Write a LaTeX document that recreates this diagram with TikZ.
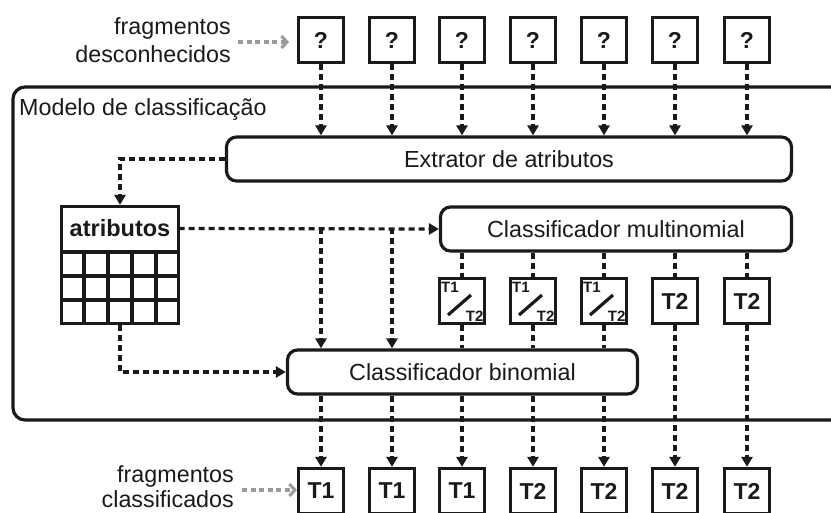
\documentclass[tikz,border=0pt]{standalone}
\usepackage{fontspec}
\setmainfont{Liberation Sans}
\usetikzlibrary{arrows.meta,positioning}

\definecolor{ink}{HTML}{1A1A1A}
\definecolor{hint}{HTML}{9A9A9A}

\tikzset{
  x=1pt, y=-1pt,
  every node/.style={text=ink},
  frag/.style={draw=ink, line width=3.2pt, minimum width=45pt, minimum height=45pt,
    inner sep=0pt, font=\fontsize{23}{26}\selectfont\bfseries},
  proc/.style={draw=ink, line width=3.2pt, rounded corners=10pt, inner sep=0pt,
    minimum height=44pt, font=\fontsize{23.3}{27}\selectfont},
  flow/.style={draw=ink, line width=3.2pt, dash pattern=on 6pt off 4pt},
  flowto/.style={flow, -{Triangle[length=10pt,width=11pt]}},
  hintarrow/.style={draw=hint, line width=3.2pt, dash pattern=on 5pt off 3.5pt,
    -{Straight Barb[length=5.5pt,width=12pt,line width=3pt]}},
  caption/.style={align=right, anchor=east, inner sep=0pt},
  tiny/.style={inner sep=0pt, font=\fontsize{15}{15}\selectfont\bfseries},
}

\begin{document}
\begin{tikzpicture}
\useasboundingbox (0,0) rectangle (831,513);
\clip (0,0) rectangle (831,513);
\fill[white] (0,0) rectangle (831,513);

% classification model frame
\draw[ink, line width=3.2pt, rounded corners=12pt] (13,87) rectangle (870,420);
\node[anchor=west, inner sep=0pt, font=\fontsize{23.3}{27}\selectfont] (model) at (19,110) {Modelo de classificação};

% unknown fragments
\foreach \i/\x in {1/321,2/392,3/462,4/533,5/604,6/675,7/747}
  \node[frag] (q\i) at (\x,40) {?};
\node[caption, font=\fontsize{23.3}{28}\selectfont] (inlabel) at (231,40) {fragmentos\\desconhecidos};
\coordinate (instart) at (238,42);
\coordinate (intip) at (289,42);
\draw[hintarrow] (instart) -- (intip);

% processing blocks
\node[proc, minimum width=565pt] (extr) at (509,159) {Extrator de atributos};
\node[proc, minimum width=351pt] (multi) at (616,229) {Classificador multinomial};
\node[proc, minimum width=350pt] (bino) at (462.5,372) {Classificador binomial};

% feature table
\node[draw=ink, line width=3.2pt, minimum width=117pt, minimum height=117pt, inner sep=0pt] (attr) at (120,265) {};
\node[inner sep=0pt, minimum width=117pt, minimum height=44pt, font=\fontsize{23.5}{27}\selectfont\bfseries] (attrhead) at (120,228.5) {atributos};
\draw[ink, line width=3.2pt] (60,252) -- (180,252);
\foreach \y in {276,300} \draw[ink, line width=3.2pt] (60,\y) -- (180,\y);
\foreach \x in {84,108,132,156} \draw[ink, line width=3.2pt] (\x,252) -- (\x,325);

% multinomial outputs: undecided T1/T2 and decided T2
\foreach \i/\x in {3/462,4/533,5/604}{
  \node[frag] (s\i) at (\x,301) {};
  \draw[ink, line width=3.2pt] ([xshift=-14pt,yshift=-14pt]s\i.center) -- ([xshift=9pt,yshift=6pt]s\i.center);
  \node[tiny, anchor=north west] at ([xshift=3pt,yshift=-5pt]s\i.north west) {T1};
  \node[tiny, anchor=south east] at ([xshift=-2.5pt,yshift=3.5pt]s\i.south east) {T2};
}
\foreach \i/\x in {6/675,7/747}
  \node[frag] (s\i) at (\x,301) {T2};

% classified fragments
\foreach \i/\x/\t in {1/321/T1,2/392/T1,3/462/T1,4/533/T2,5/604/T2,6/675/T2,7/747/T2}
  \node[frag] (o\i) at (\x,491) {\t};
\node[caption, font=\fontsize{23.3}{25}\selectfont] (outlabel) at (234,487) {fragmentos\\classificados};
\coordinate (outstart) at (242,490);
\draw[hintarrow] (outstart) -- (o1.west |- outstart);

% fragments into the extractor
\foreach \i in {1,...,7}
  \draw[flowto] (q\i.south) -- (q\i |- extr.north);

% extractor to feature table
\draw[flowto] (extr.west) -| (attr.north);

% features to both classifiers
\draw[flowto] (attrhead.east) -- (multi.west);
\foreach \i in {1,2}{
  \coordinate (tap\i) at (attrhead.east -| q\i);
  \draw[flowto] (tap\i) -- (tap\i |- bino.north);
}
\draw[flowto] (attr.south) |- (bino.west);

% multinomial decisions
\foreach \i in {3,...,7}
  \draw[flow] (s\i |- multi.south) -- (s\i.north);
\foreach \i in {3,4,5}
  \draw[flow] (s\i.south) -- (s\i |- bino.north);

% final labels
\foreach \i in {1,...,5}
  \draw[flowto] (o\i |- bino.south) -- (o\i.north);
\foreach \i in {6,7}
  \draw[flowto] (s\i.south) -- (o\i.north);
\end{tikzpicture}
\end{document}
